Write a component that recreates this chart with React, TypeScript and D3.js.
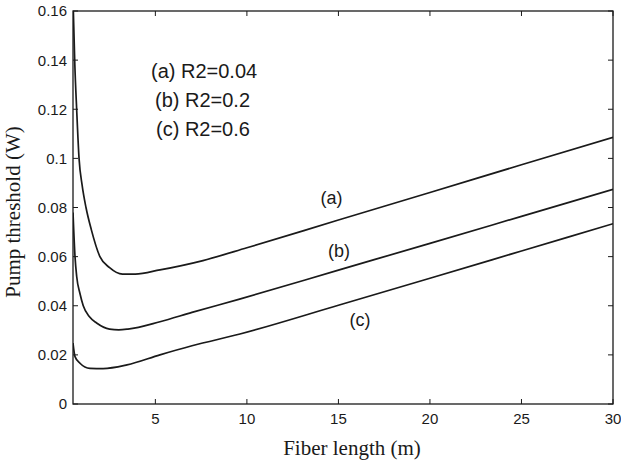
import React from "react";
import * as d3 from "d3";

const xA = [0.5, 0.6, 0.7, 0.83, 1.0, 1.21, 1.5, 1.97, 2.5, 3.2, 3.9, 5.25, 7.6, 10, 15, 20, 25, 30];
const yA = [0.165, 0.138, 0.12, 0.1, 0.089, 0.08, 0.071, 0.06, 0.0555, 0.0529, 0.0529, 0.0546, 0.0584, 0.0636, 0.0749, 0.0861, 0.0974, 0.1086];
const xB = [0.5, 0.61, 0.7, 0.88, 1.06, 1.4, 1.79, 2.5, 3.0, 3.5, 5.25, 7.0, 9.6, 15, 20, 25, 30];
const yB = [0.078, 0.06, 0.052, 0.045, 0.04, 0.0355, 0.033, 0.0305, 0.0302, 0.0305, 0.0335, 0.0373, 0.0427, 0.0545, 0.0654, 0.0764, 0.0874];
const xC = [0.5, 0.61, 0.88, 1.43, 2.14, 3.45, 5.25, 7.0, 9.62, 15, 20, 25, 30];
const yC = [0.0248, 0.0193, 0.0166, 0.0145, 0.0144, 0.0159, 0.02, 0.0237, 0.0285, 0.0402, 0.0512, 0.0623, 0.0734];

const xTicks = [5, 10, 15, 20, 25, 30];
const yTicks = [0, 0.02, 0.04, 0.06, 0.08, 0.1, 0.12, 0.14, 0.16];
const yTickLabels = ["0", "0.02", "0.04", "0.06", "0.08", "0.1", "0.12", "0.14", "0.16"];
const legendLines = ["(a) R2=0.04", "(b) R2=0.2", "(c) R2=0.6"];
const curveLabels = ["(a)", "(b)", "(c)"];

const W = 621, H = 462;
const L = 73, R = 613, T = 11, B = 404;

export default function App() {
  const x = d3.scaleLinear().domain([0.5, 30]).range([L, R]);
  const y = d3.scaleLinear().domain([0, 0.16]).range([B, T]);
  const line = d3
    .line<[number, number]>()
    .x((d) => x(d[0]))
    .y((d) => y(d[1]))
    .curve(d3.curveMonotoneX);
  const series = [
    xA.map((v, i) => [v, yA[i]] as [number, number]),
    xB.map((v, i) => [v, yB[i]] as [number, number]),
    xC.map((v, i) => [v, yC[i]] as [number, number]),
  ];
  const sans = "'Liberation Sans', Arial, sans-serif";
  const serif = "'Liberation Serif', 'Times New Roman', serif";
  const col = "#1a1a1a";
  const legendPos = [
    [151, 77.5],
    [155, 107],
    [156, 136],
  ];
  const labelPos = [
    [331.5, 204],
    [339, 257],
    [360, 326],
  ];
  return (
    <svg width={W} height={H} style={{ position: "absolute", left: 0, top: 0, background: "#fff" }}>
      <defs>
        <clipPath id="plot">
          <rect x={L} y={T} width={R - L} height={B - T} />
        </clipPath>
      </defs>
      <rect x={0} y={0} width={W} height={H} fill="#fff" />
      <g clipPath="url(#plot)">
        {series.map((s, i) => (
          <path key={i} d={line(s) || ""} fill="none" stroke={col} strokeWidth={1.7} />
        ))}
      </g>
      <rect x={L} y={T} width={R - L} height={B - T} fill="none" stroke={col} strokeWidth={1.3} />
      {xTicks.map((t) => (
        <g key={"x" + t}>
          <line x1={x(t)} x2={x(t)} y1={B} y2={B - 5} stroke={col} strokeWidth={1} />
          <line x1={x(t)} x2={x(t)} y1={T} y2={T + 5} stroke={col} strokeWidth={1} />
          <text x={x(t)} y={424} textAnchor="middle" fontFamily={sans} fontSize={15} fill={col}>
            {t}
          </text>
        </g>
      ))}
      {yTicks.map((t, i) => (
        <g key={"y" + t}>
          <line x1={L} x2={L + 5} y1={y(t)} y2={y(t)} stroke={col} strokeWidth={1} />
          <line x1={R} x2={R - 5} y1={y(t)} y2={y(t)} stroke={col} strokeWidth={1} />
          <text x={L - 6} y={y(t)} dy="0.36em" textAnchor="end" fontFamily={sans} fontSize={15} fill={col}>
            {yTickLabels[i]}
          </text>
        </g>
      ))}
      {legendLines.map((s, i) => (
        <text key={s} x={legendPos[i][0]} y={legendPos[i][1]} fontFamily={sans} fontSize={20} fill={col}>
          {s}
        </text>
      ))}
      {curveLabels.map((s, i) => (
        <text key={s} x={labelPos[i][0]} y={labelPos[i][1]} textAnchor="middle" fontFamily={sans} fontSize={18} fill={col}>
          {s}
        </text>
      ))}
      <text x={352} y={455} textAnchor="middle" fontFamily={serif} fontSize={21} fill={col}>
        Fiber length (m)
      </text>
      <text
        transform={`translate(20,212) rotate(-90)`}
        textAnchor="middle"
        fontFamily={serif}
        fontSize={21}
        fill={col}
      >
        Pump threshold (W)
      </text>
    </svg>
  );
}
